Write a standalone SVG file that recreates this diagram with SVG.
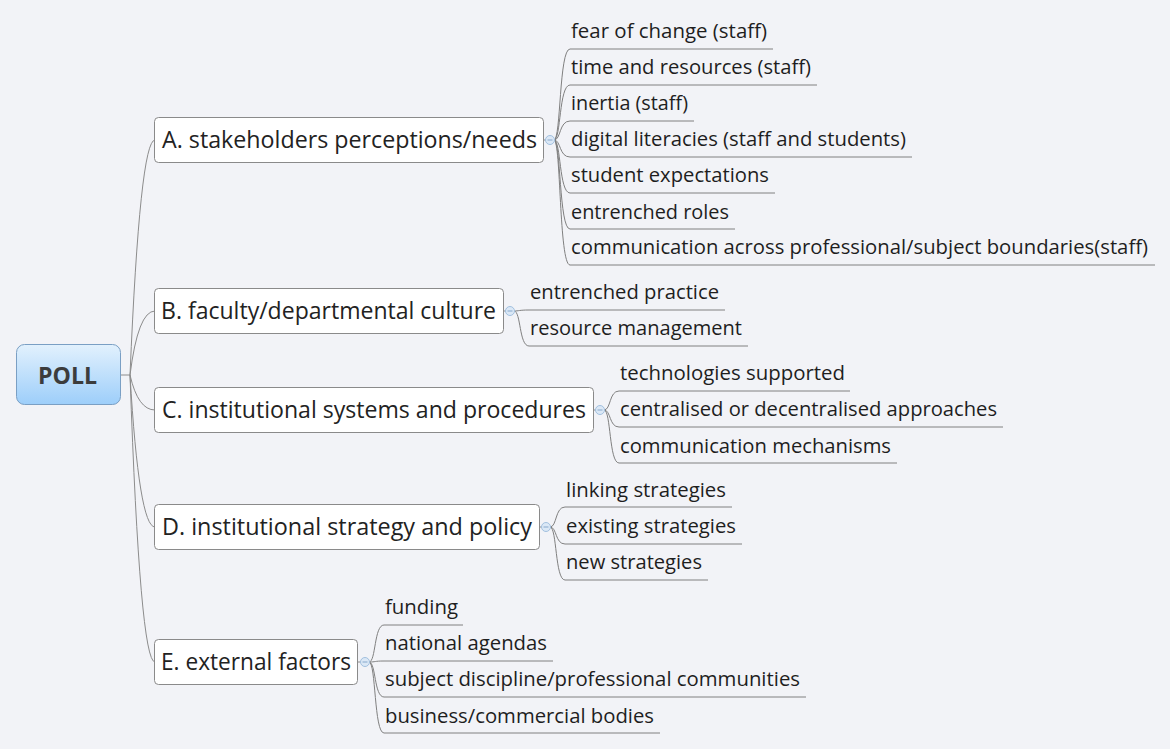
<svg xmlns="http://www.w3.org/2000/svg" width="1170" height="749" viewBox="0 0 1170 749">
<defs>
<linearGradient id="rootGrad" x1="0" y1="0" x2="0" y2="1">
<stop offset="0" stop-color="#e2f1fd"/>
<stop offset="1" stop-color="#9dcefa"/>
</linearGradient>
<style>
.bg{fill:#f2f3f7}
.root{fill:url(#rootGrad);stroke:#7a9fc4;stroke-width:1}
.rootText{font-family:"Open Sans","Liberation Sans",sans-serif;font-weight:bold;font-size:24px;fill:#3c3c3c}
.main{fill:#ffffff;stroke:#8a8a8a;stroke-width:1}
.mainText{font-family:"Open Sans","Liberation Sans",sans-serif;font-size:23.5px;fill:#222222}
.sub{font-family:"Open Sans","Liberation Sans",sans-serif;font-size:20.5px;fill:#1e1e1e}
.conn{fill:none;stroke:#8c8c8c;stroke-width:1}
.under{fill:none;stroke:#808080;stroke-width:1}
.jc{fill:#dbe8f6;stroke:#a2c0df;stroke-width:1}
.jm{stroke:#86a8cc;stroke-width:1}
</style>
</defs>
<rect class="bg" x="0" y="0" width="1170" height="749"/>

<g id="connectors">
<path class="conn" d="M121,375 L130,375"/>
<path class="conn" d="M130,375 Q140,140 155,140"/>
<path class="conn" d="M130,375 Q138,311 155,311"/>
<path class="conn" d="M130,375 Q138,410 155,410"/>
<path class="conn" d="M130,375 Q139,527 155,527"/>
<path class="conn" d="M130,375 Q140,662 155,662"/>
<path class="conn" d="M544,140 L546,140"/>
<path class="conn" d="M504,311 L506,311"/>
<path class="conn" d="M594,410 L596,410"/>
<path class="conn" d="M540,527 L542,527"/>
<path class="conn" d="M358,662 L361,662"/>
<path class="under" d="M554,140 C561,140 559,49 570,49 L773,49"/>
<path class="under" d="M554,140 C561,140 559,85 570,85 L817,85"/>
<path class="under" d="M554,140 C561,140 559,121 570,121 L694,121"/>
<path class="under" d="M554,140 C561,140 559,157 570,157 L912,157"/>
<path class="under" d="M554,140 C561,140 559,193 570,193 L775,193"/>
<path class="under" d="M554,140 C561,140 559,229 570,229 L735,229"/>
<path class="under" d="M554,140 C561,140 559,265 570,265 L1155,265"/>
<path class="under" d="M514,311 C519,311 519,310 529,310 L725,310"/>
<path class="under" d="M514,311 C521,311 519,346 529,346 L748,346"/>
<path class="under" d="M604,410 C611,410 609,391 619,391 L850,391"/>
<path class="under" d="M604,410 C611,410 609,427 619,427 L1003,427"/>
<path class="under" d="M604,410 C611,410 609,463 619,463 L897,463"/>
<path class="under" d="M550,527 C557,527 555,507 565,507 L732,507"/>
<path class="under" d="M550,527 C557,527 555,544 565,544 L742,544"/>
<path class="under" d="M550,527 C557,527 555,580 565,580 L708,580"/>
<path class="under" d="M369,662 C376,662 374,625 384,625 L463,625"/>
<path class="under" d="M369,662 C376,662 374,661 384,661 L553,661"/>
<path class="under" d="M369,662 C376,662 374,697 384,697 L806,697"/>
<path class="under" d="M369,662 C376,662 374,733 384,733 L660,733"/>
</g>

<g id="root">
<rect class="root" x="16.5" y="344.5" width="104" height="60" rx="8" ry="8"/>
<text class="rootText" x="38" y="384" textLength="59" lengthAdjust="spacingAndGlyphs">POLL</text>
</g>

<g id="topic-a">
<rect class="main" x="154.5" y="117.5" width="389" height="45" rx="4" ry="4"/>
<text class="mainText" x="162" y="148" textLength="375" lengthAdjust="spacingAndGlyphs">A. stakeholders perceptions/needs</text>
<circle class="jc" cx="550" cy="140" r="4.5"/><line class="jm" x1="547.5" y1="140" x2="552.5" y2="140"/>
</g>
<g id="topic-b">
<rect class="main" x="154.5" y="288.5" width="349" height="45" rx="4" ry="4"/>
<text class="mainText" x="161" y="319" textLength="335" lengthAdjust="spacingAndGlyphs">B. faculty/departmental culture</text>
<circle class="jc" cx="510" cy="311" r="4.5"/><line class="jm" x1="507.5" y1="311" x2="512.5" y2="311"/>
</g>
<g id="topic-c">
<rect class="main" x="154.5" y="387.5" width="439" height="45" rx="4" ry="4"/>
<text class="mainText" x="162" y="418" textLength="424" lengthAdjust="spacingAndGlyphs">C. institutional systems and procedures</text>
<circle class="jc" cx="600" cy="410" r="4.5"/><line class="jm" x1="597.5" y1="410" x2="602.5" y2="410"/>
</g>
<g id="topic-d">
<rect class="main" x="154.5" y="504.5" width="385" height="45" rx="4" ry="4"/>
<text class="mainText" x="162" y="535" textLength="370" lengthAdjust="spacingAndGlyphs">D. institutional strategy and policy</text>
<circle class="jc" cx="546" cy="527" r="4.5"/><line class="jm" x1="543.5" y1="527" x2="548.5" y2="527"/>
</g>
<g id="topic-e">
<rect class="main" x="154.5" y="639.5" width="203" height="45" rx="4" ry="4"/>
<text class="mainText" x="161" y="670" textLength="190" lengthAdjust="spacingAndGlyphs">E. external factors</text>
<circle class="jc" cx="365" cy="662" r="4.5"/><line class="jm" x1="362.5" y1="662" x2="367.5" y2="662"/>
</g>

<g id="a-children">
<text class="sub" x="571" y="38" textLength="196" lengthAdjust="spacingAndGlyphs">fear of change (staff)</text>
<text class="sub" x="571" y="74" textLength="240" lengthAdjust="spacingAndGlyphs">time and resources (staff)</text>
<text class="sub" x="571" y="110" textLength="117" lengthAdjust="spacingAndGlyphs">inertia (staff)</text>
<text class="sub" x="571" y="146" textLength="335" lengthAdjust="spacingAndGlyphs">digital literacies (staff and students)</text>
<text class="sub" x="571" y="182" textLength="198" lengthAdjust="spacingAndGlyphs">student expectations</text>
<text class="sub" x="571" y="219" textLength="158" lengthAdjust="spacingAndGlyphs">entrenched roles</text>
<text class="sub" x="571" y="254" textLength="577" lengthAdjust="spacingAndGlyphs">communication across professional/subject boundaries(staff)</text>
</g>
<g id="b-children">
<text class="sub" x="530" y="299" textLength="189" lengthAdjust="spacingAndGlyphs">entrenched practice</text>
<text class="sub" x="530" y="335" textLength="212" lengthAdjust="spacingAndGlyphs">resource management</text>
</g>
<g id="c-children">
<text class="sub" x="620" y="380" textLength="225" lengthAdjust="spacingAndGlyphs">technologies supported</text>
<text class="sub" x="620" y="416" textLength="377" lengthAdjust="spacingAndGlyphs">centralised or decentralised approaches</text>
<text class="sub" x="620" y="453" textLength="271" lengthAdjust="spacingAndGlyphs">communication mechanisms</text>
</g>
<g id="d-children">
<text class="sub" x="566" y="497" textLength="160" lengthAdjust="spacingAndGlyphs">linking strategies</text>
<text class="sub" x="566" y="533" textLength="170" lengthAdjust="spacingAndGlyphs">existing strategies</text>
<text class="sub" x="566" y="569" textLength="136" lengthAdjust="spacingAndGlyphs">new strategies</text>
</g>
<g id="e-children">
<text class="sub" x="385" y="614" textLength="73" lengthAdjust="spacingAndGlyphs">funding</text>
<text class="sub" x="385" y="650" textLength="162" lengthAdjust="spacingAndGlyphs">national agendas</text>
<text class="sub" x="385" y="686" textLength="415" lengthAdjust="spacingAndGlyphs">subject discipline/professional communities</text>
<text class="sub" x="385" y="723" textLength="269" lengthAdjust="spacingAndGlyphs">business/commercial bodies</text>
</g>
</svg>
